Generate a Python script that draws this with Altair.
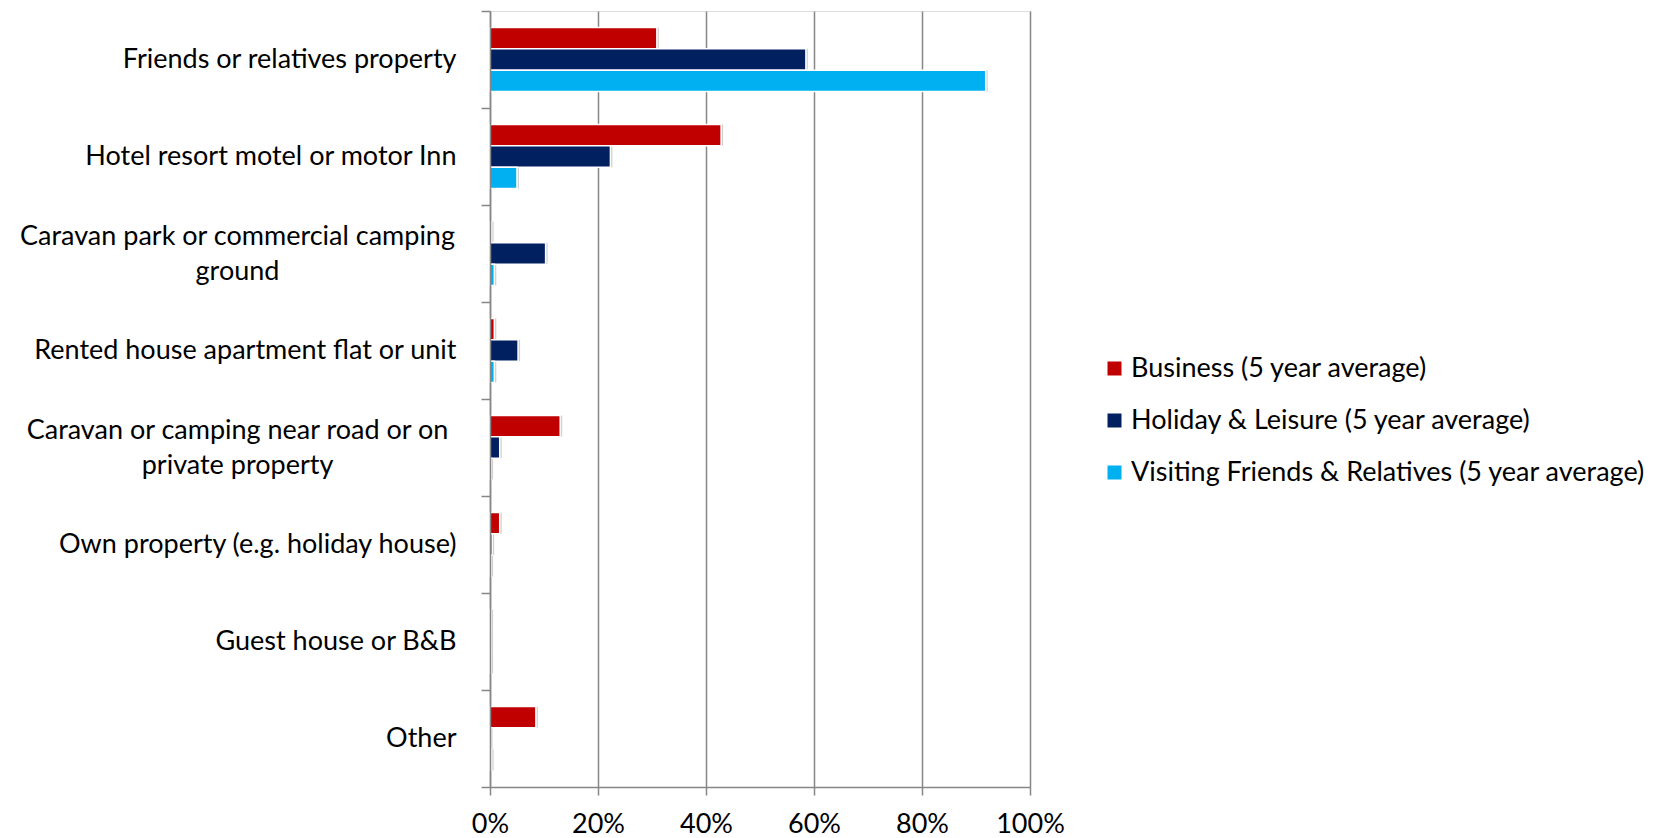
import altair as alt
import pandas as pd

categories = [
    "Friends or relatives property",
    "Hotel resort motel or motor Inn",
    "Caravan park or commercial camping ground",
    "Rented house apartment flat or unit",
    "Caravan or camping near road or on private property",
    "Own property (e.g. holiday house)",
    "Guest house or B&B",
    "Other",
]
series = [
    "Business (5 year average)",
    "Holiday & Leisure (5 year average)",
    "Visiting Friends & Relatives (5 year average)",
]
business = [30.9, 42.8, 0.3, 0.8, 13.0, 1.8, 0.2, 8.5]
holiday = [58.5, 22.3, 10.3, 5.2, 1.8, 0.4, 0.2, 0.1]
vfr = [91.8, 5.0, 0.8, 0.8, 0.2, 0.2, 0.2, 0.3]
colors = ["#C00000", "#002060", "#00B0F0"]
x_ticks = [0, 20, 40, 60, 80, 100]

rows = []
for s, vals in zip(series, [business, holiday, vfr]):
    for c, v in zip(categories, vals):
        rows.append({"category": c, "series": s, "value": v / 100.0})
df = pd.DataFrame(rows)

FONT = "Lato"
FS = 27

label_expr = (
    "datum.value == 'Caravan park or commercial camping ground' ? "
    "['Caravan park or commercial camping', 'ground'] : "
    "datum.value == 'Caravan or camping near road or on private property' ? "
    "['Caravan or camping near road or on', 'private property'] : datum.value"
)
is_wrapped = (
    "datum.value == 'Caravan park or commercial camping ground' || "
    "datum.value == 'Caravan or camping near road or on private property'"
)

y_enc = alt.Y(
    "category:N",
    sort=categories,
    scale=alt.Scale(paddingInner=0, paddingOuter=0),
    axis=alt.Axis(
        title=None,
        labelExpr=label_expr,
        labelFont=FONT,
        labelFontSize=FS,
        labelColor="#000000",
        labelLineHeight=35,
        labelLimit=0,
        labelAlign={"condition": {"test": is_wrapped, "value": "center"}, "value": "right"},
        labelPadding={"condition": {"test": is_wrapped, "value": 244}, "value": 25},
        labelOffset={"condition": {"test": is_wrapped, "value": -17.5}, "value": 0},
        tickBand="extent",
        tickSize=9,
        tickColor="#868686",
        tickWidth=1.5,
        domainColor="#868686",
        domainWidth=1.5,
        grid=False,
        zindex=1,
    ),
)

x_enc = alt.X(
    "value:Q",
    scale=alt.Scale(domain=[0, 1], nice=False),
    axis=alt.Axis(
        title=None,
        format=".0%",
        values=[t / 100 for t in x_ticks],
        labelFont=FONT,
        labelFontSize=FS,
        labelColor="#000000",
        labelPadding=16,
        labelFlush=False,
        tickSize=8,
        tickColor="#868686",
        tickWidth=1.5,
        domainColor="#868686",
        domainWidth=1.5,
        grid=True,
        gridColor="#868686",
        gridWidth=1.5,
    ),
)

yoff = alt.YOffset(
    "series:N", sort=series,
    scale=alt.Scale(domain=series, paddingInner=0, paddingOuter=0.77),
)

shadow = alt.Chart(df).mark_bar(
    color="#000000", opacity=0.18, xOffset=2, x2Offset=3, yOffset=3
).encode(
    x=x_enc,
    y=y_enc,
    yOffset=yoff,
)

bars = alt.Chart(df).mark_bar(stroke="#FFFFFF", strokeWidth=1.5).encode(
    x="value:Q",
    y=alt.Y("category:N", sort=categories),
    yOffset=alt.YOffset("series:N", sort=series),
    color=alt.Color(
        "series:N",
        sort=series,
        scale=alt.Scale(domain=series, range=colors),
        legend=alt.Legend(
            title=None,
            orient="none",
            legendX=611,
            legendY=344,
            padding=0,
            labelFont=FONT,
            labelFontSize=FS,
            labelColor="#000000",
            symbolType="square",
            symbolSize=196,
            symbolStrokeWidth=0,
            rowPadding=24,
            labelOffset=3,
            labelLimit=0,
        ),
    ),
)

chart = (
    alt.layer(shadow, bars)
    .properties(
        width=540,
        height=776,
        autosize=alt.AutoSizeParams(type="none"),
        padding={"left": 490, "top": 11, "right": 635, "bottom": 51},
    )
    .configure_view(fill="#F2F2F2", stroke=None)
    .configure(background="#FFFFFF")
)

chart.save("out.html", embed_options={"renderer": "svg", "actions": False})
